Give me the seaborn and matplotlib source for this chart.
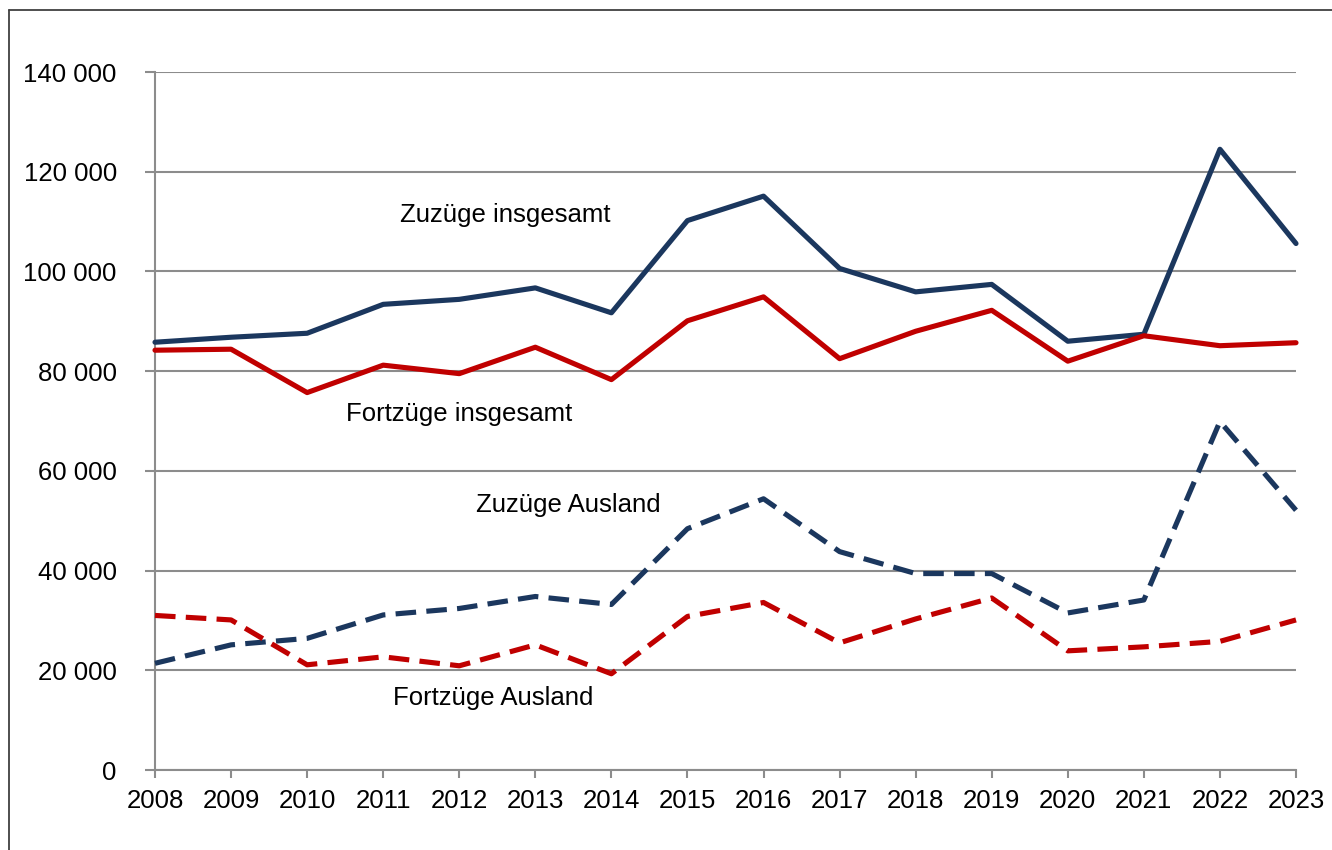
import pandas as pd
import matplotlib
matplotlib.use("Agg")
import matplotlib.pyplot as plt
from matplotlib.lines import Line2D
from matplotlib.ticker import FuncFormatter
import seaborn as sns

# data
years = list(range(2008, 2024))
zuzuege_insg = [85800, 86800, 87600, 93400, 94400, 96700, 91700, 110200, 115100,
                100600, 95900, 97400, 86000, 87400, 124500, 105600]
fortzuege_insg = [84200, 84400, 75700, 81200, 79500, 84800, 78300, 90100, 94900,
                  82500, 88000, 92200, 82000, 87100, 85100, 85700]
zuzuege_ausl = [21400, 25100, 26400, 31100, 32400, 34800, 33200, 48400, 54400,
                43800, 39400, 39400, 31500, 34100, 69900, 52100]
fortzuege_ausl = [31000, 30100, 21100, 22700, 20900, 25100, 19300, 30800, 33600,
                  25500, 30300, 34500, 23900, 24700, 25800, 30100]
series_names = ["Zuzüge insgesamt", "Fortzüge insgesamt", "Zuzüge Ausland", "Fortzüge Ausland"]

df = pd.DataFrame({
    "Jahr": years * 4,
    "Wert": zuzuege_insg + fortzuege_insg + zuzuege_ausl + fortzuege_ausl,
    "Reihe": [n for n in series_names for _ in years],
})

sns.set_style("white")
plt.rcParams["font.family"] = ["Liberation Sans", "DejaVu Sans"]
plt.rcParams["text.color"] = "black"

navy = "#1b375e"
red = "#c00000"
grid = "#8c8c8c"

fig = plt.figure(figsize=(13.32, 8.5), dpi=100)
ax = fig.add_axes([155 / 1332, 1 - 770 / 850, (1296 - 155) / 1332, (770 - 72) / 850])

ax.yaxis.grid(True, color=grid, linewidth=1.5)
ax.set_axisbelow(True)

sns.lineplot(data=df, x="Jahr", y="Wert", hue="Reihe", style="Reihe",
             palette={series_names[0]: navy, series_names[1]: red,
                      series_names[2]: navy, series_names[3]: red},
             dashes={series_names[0]: "", series_names[1]: "",
                     series_names[2]: (4, 2), series_names[3]: (4, 2)},
             linewidth=3.7, legend=False, ax=ax, clip_on=False, zorder=3)

ax.set_xlim(2008, 2023)
ax.set_ylim(0, 140000)
ax.set_xticks(years)
ax.set_yticks(range(0, 140001, 20000))
ax.yaxis.set_major_formatter(FuncFormatter(lambda v, p: f"{int(v):,}".replace(",", " ")))
ax.set_xlabel("")
ax.set_ylabel("")

for s in ["top", "right"]:
    ax.spines[s].set_visible(False)
for s in ["left", "bottom"]:
    ax.spines[s].set_color(grid)
    ax.spines[s].set_linewidth(1.5)

ax.tick_params(axis="y", length=7.5, width=1.5, color=grid, labelcolor="black",
               labelsize=18.5, pad=20, left=True)
ax.tick_params(axis="x", length=5.5, width=1.5, color=grid, labelcolor="black",
               labelsize=18.5, pad=8, bottom=True)

# series labels
ax.text(2012.6, 111300, "Zuzüge insgesamt", fontsize=18.5, color="black", ha="center", va="center")
ax.text(2012.0, 71400, "Fortzüge insgesamt", fontsize=18.5, color="black", ha="center", va="center")
ax.text(2013.43, 53150, "Zuzüge Ausland", fontsize=18.5, color="black", ha="center", va="center")
ax.text(2012.44, 14400, "Fortzüge Ausland", fontsize=18.5, color="black", ha="center", va="center")

# outer frame (left and top edges visible)
fig.add_artist(Line2D([9 / 1332, 9 / 1332], [0, 1 - 10 / 850], color="#404040", linewidth=1.3))
fig.add_artist(Line2D([9 / 1332, 1], [1 - 10 / 850, 1 - 10 / 850], color="#404040", linewidth=1.3))

fig.savefig("out.png", dpi=100)
